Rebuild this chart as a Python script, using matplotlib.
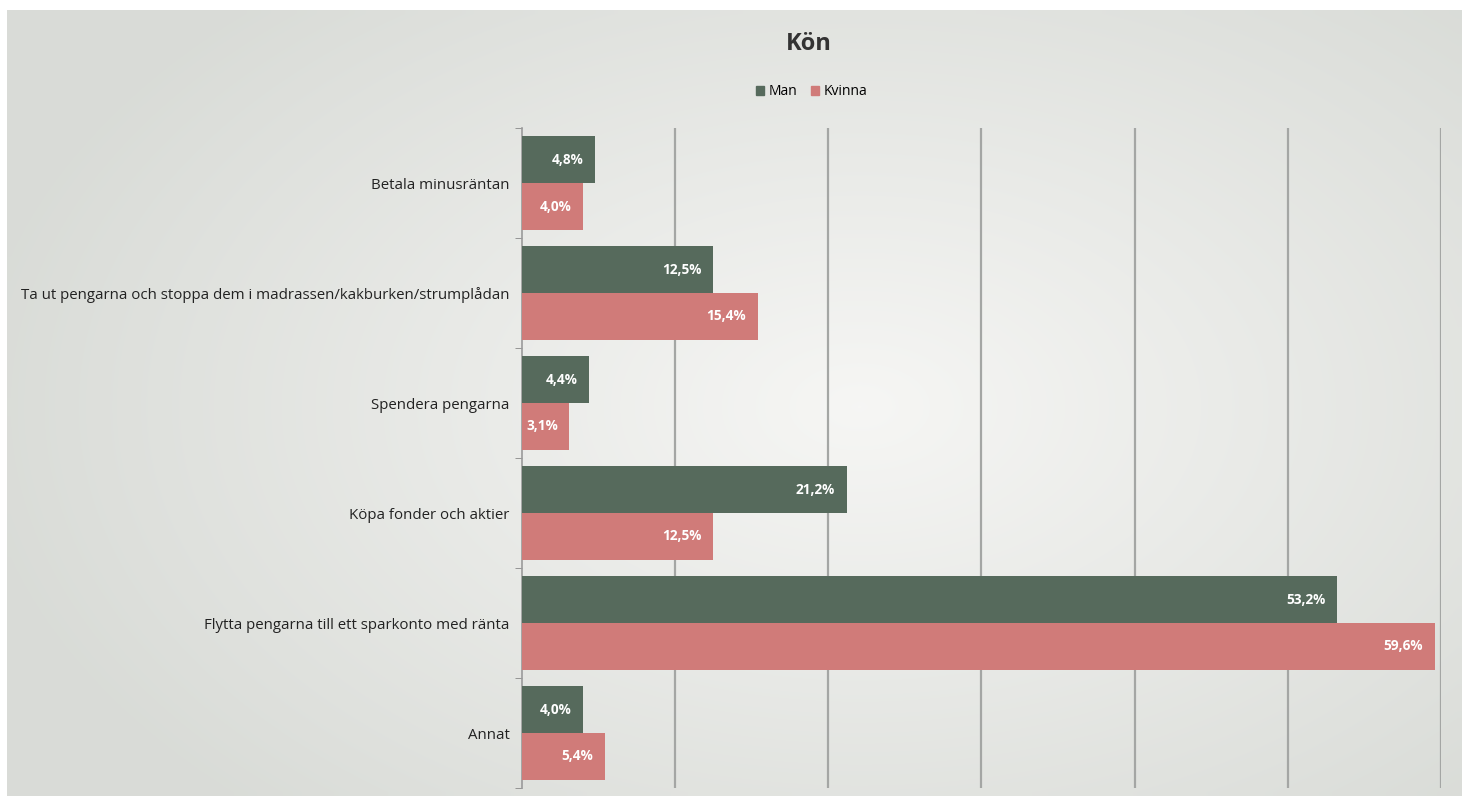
import numpy as np
import matplotlib.pyplot as plt
from matplotlib.patches import Patch

plt.rcParams['font.family'] = ['Open Sans', 'DejaVu Sans']

# data
categories = ['Betala minusräntan',
              'Ta ut pengarna och stoppa dem i madrassen/kakburken/strumplådan',
              'Spendera pengarna',
              'Köpa fonder och aktier',
              'Flytta pengarna till ett sparkonto med ränta',
              'Annat']
man = [4.8, 12.5, 4.4, 21.2, 53.2, 4.0]
kvinna = [4.0, 15.4, 3.1, 12.5, 59.6, 5.4]
series_names = ['Man', 'Kvinna']
colors = ['#566a5c', '#d07b79']

fig = plt.figure(figsize=(14.62, 7.96), dpi=100)

# background gradient (light centre, grey edges), white border top/left
bg = fig.add_axes([0.0048, 0, 0.9952, 0.987])
yy, xx = np.mgrid[0:100, 0:180]
r = np.sqrt(((xx - 105) / 110.0) ** 2 + ((yy - 50) / 70.0) ** 2)
r = np.clip(r, 0, 1)
c0 = np.array([0.965, 0.965, 0.958])
c1 = np.array([0.852, 0.862, 0.845])
img = c0[None, None, :] * (1 - r[..., None]) + c1[None, None, :] * r[..., None]
bg.imshow(img, aspect='auto', interpolation='bilinear')
bg.axis('off')
bg.set_zorder(-10)

ax = fig.add_axes([0.357, 0.01, 0.6285, 0.829])
ax.patch.set_alpha(0)

n = len(categories)
y = np.arange(n)
h = 0.425
b1 = ax.barh(y - h / 2, man, height=h, color=colors[0], zorder=3)
b2 = ax.barh(y + h / 2, kvinna, height=h, color=colors[1], zorder=3)

for bars, vals in [(b1, man), (b2, kvinna)]:
    for bar, v in zip(bars, vals):
        ax.text(v - 0.75, bar.get_y() + bar.get_height() / 2,
                f'{v:.1f}%'.replace('.', ','), ha='right', va='center',
                color='white', fontsize=9.8, fontweight='bold', zorder=4)

ax.set_xlim(0, 60)
ax.set_ylim(n - 0.5, -0.5)
ax.set_xticks(np.arange(10, 61, 10))
ax.tick_params(axis='x', length=0, labelbottom=False)
ax.xaxis.grid(True, color='#a4a6a4', linewidth=1.6, zorder=0)
ax.set_axisbelow(True)

ax.set_yticks(y)
ax.set_yticklabels(categories, fontsize=10.8, color='#222222')
ax.tick_params(axis='y', length=0, pad=9)
ax.set_yticks(np.arange(-0.5, n, 1), minor=True)
ax.tick_params(axis='y', which='minor', length=5, color='#888888')

for s in ['top', 'right', 'bottom']:
    ax.spines[s].set_visible(False)
ax.spines['left'].set_color('#9a9a9a')
ax.spines['left'].set_linewidth(1.2)

fig.text(0.553, 0.945, 'Kön', ha='center', va='center', fontsize=17,
         fontweight='bold', color='#333333')
handles = [Patch(color=c, label=s) for c, s in zip(colors, series_names)]
fig.legend(handles=handles, loc='center', bbox_to_anchor=(0.555, 0.885),
           ncol=2, frameon=False, fontsize=10, handlelength=0.6,
           handleheight=0.6, handletextpad=0.3, columnspacing=1.0)

fig.savefig('out.png', dpi=100)
